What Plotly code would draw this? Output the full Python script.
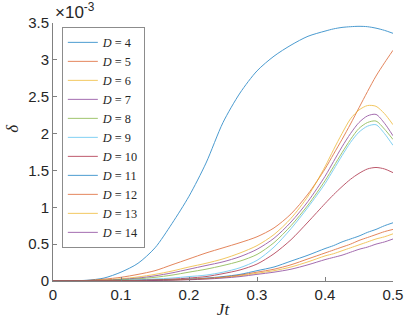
import plotly.graph_objects as go

# Jt grid (finer near the peaks)
jt = [0, 0.025, 0.05, 0.075, 0.1, 0.125, 0.15, 0.175, 0.2, 0.225, 0.25, 0.275,
      0.3, 0.325, 0.35, 0.375, 0.4, 0.4125, 0.425, 0.4375, 0.45, 0.4625, 0.475, 0.4875, 0.5]

# delta values in units of 1e-3
d4 = [0, 0.003, 0.01, 0.04, 0.12, 0.24, 0.45, 0.78, 1.15, 1.6, 2.15, 2.55,
      2.85, 3.05, 3.2, 3.32, 3.39, 3.42, 3.44, 3.45, 3.455, 3.45, 3.43, 3.4, 3.36]
d5 = [0, 0.002, 0.008, 0.025, 0.05, 0.09, 0.14, 0.22, 0.30, 0.38, 0.45, 0.52,
      0.60, 0.72, 0.91, 1.18, 1.52, 1.72, 1.92, 2.13, 2.35, 2.57, 2.78, 2.96, 3.13]
d6 = [0, 0.001, 0.005, 0.015, 0.03, 0.055, 0.09, 0.135, 0.19, 0.24, 0.30, 0.38,
      0.48, 0.63, 0.85, 1.15, 1.55, 1.78, 2.0, 2.2, 2.32, 2.38, 2.37, 2.27, 2.12]
d7 = [0, 0.001, 0.004, 0.01, 0.022, 0.04, 0.07, 0.11, 0.16, 0.21, 0.26, 0.33,
      0.43, 0.58, 0.80, 1.08, 1.42, 1.62, 1.82, 2.0, 2.15, 2.24, 2.26, 2.14, 1.97]
d8 = [0, 0.001, 0.003, 0.008, 0.016, 0.03, 0.05, 0.08, 0.12, 0.16, 0.21, 0.27,
      0.36, 0.52, 0.75, 1.03, 1.36, 1.55, 1.74, 1.92, 2.07, 2.15, 2.17, 2.06, 1.92]
d9 = [0, 0, 0.002, 0.005, 0.01, 0.017, 0.027, 0.04, 0.06, 0.08, 0.12, 0.18,
      0.28, 0.46, 0.71, 1.0, 1.32, 1.51, 1.70, 1.88, 2.02, 2.10, 2.12, 2.0, 1.84]
d10 = [0, 0, 0.001, 0.003, 0.006, 0.01, 0.016, 0.025, 0.04, 0.06, 0.10, 0.15,
       0.23, 0.37, 0.56, 0.80, 1.05, 1.17, 1.28, 1.38, 1.46, 1.52, 1.54, 1.52, 1.47]
d11 = [0, 0, 0.001, 0.002, 0.004, 0.007, 0.011, 0.017, 0.026, 0.04, 0.06, 0.09,
       0.14, 0.19, 0.27, 0.35, 0.44, 0.48, 0.53, 0.57, 0.61, 0.66, 0.70, 0.75, 0.79]
d12 = [0, 0, 0.001, 0.002, 0.004, 0.006, 0.01, 0.015, 0.023, 0.035, 0.053, 0.08,
       0.12, 0.16, 0.22, 0.30, 0.38, 0.42, 0.46, 0.50, 0.55, 0.59, 0.63, 0.67, 0.70]
d13 = [0, 0, 0.001, 0.002, 0.003, 0.005, 0.009, 0.013, 0.02, 0.03, 0.047, 0.07,
       0.105, 0.14, 0.19, 0.26, 0.34, 0.37, 0.41, 0.45, 0.49, 0.53, 0.57, 0.60, 0.64]
d14 = [0, 0, 0, 0.001, 0.002, 0.004, 0.007, 0.011, 0.017, 0.026, 0.04, 0.06,
       0.09, 0.12, 0.16, 0.22, 0.29, 0.32, 0.35, 0.39, 0.43, 0.46, 0.50, 0.53, 0.57]

dims = [4, 5, 6, 7, 8, 9, 10, 11, 12, 13, 14]
series = [d4, d5, d6, d7, d8, d9, d10, d11, d12, d13, d14]

# matlab default line colours, cycling
colors = ['#0072BD', '#D95319', '#EDB120', '#7E2F8E', '#77AC30', '#4DBEEE', '#A2142F']

fig = go.Figure()
for i, (D, y) in enumerate(zip(dims, series)):
    fig.add_trace(go.Scatter(
        x=jt, y=y, mode='lines', name=f'<i>D</i> = {D}',
        line=dict(color=colors[i % 7], width=1, shape='spline', smoothing=0.8),
        opacity=0.7,
    ))

axis_common = dict(
    showgrid=False, zeroline=False, showline=True, linecolor='#808080', linewidth=1,
    ticks='inside', ticklen=4, tickcolor='#808080',
    tickfont=dict(family='Liberation Sans', size=15, color='#262626'),
)

fig.update_layout(
    width=415, height=328,
    margin=dict(l=53, r=12, t=23, b=45),
    plot_bgcolor='white', paper_bgcolor='white',
    xaxis=dict(range=[0, 0.5], tickvals=[0, 0.1, 0.2, 0.3, 0.4, 0.5],
               ticktext=['0', '0.1', '0.2', '0.3', '0.4', '0.5'],
               title=dict(text='<i>Jt</i>', font=dict(family='Liberation Serif', size=17, color='#262626'),
                          standoff=1),
               **axis_common),
    yaxis=dict(range=[0, 3.5], tickvals=[0, 0.5, 1, 1.5, 2, 2.5, 3, 3.5],
               ticktext=['0', '0.5', '1', '1.5', '2', '2.5', '3', '3.5'],
               **axis_common),
    legend=dict(x=0.026, y=0.985, xanchor='left', yanchor='top',
                bordercolor='#8c8c8c', borderwidth=1, bgcolor='white',
                font=dict(family='Liberation Serif', size=12.3, color='#262626'),
                itemwidth=30, tracegroupgap=0),
    showlegend=True,
    annotations=[
        dict(text='×10<sup>-3</sup>', xref='paper', yref='paper', x=0.0, y=1.0,
             xanchor='left', yanchor='bottom', showarrow=False, yshift=-1,
             font=dict(family='Liberation Sans', size=17, color='#262626')),
        dict(text='<i>δ</i>', xref='paper', yref='paper', x=0, y=0.59,
             xanchor='center', yanchor='middle', showarrow=False, xshift=-40,
             textangle=-90, font=dict(family='Liberation Serif', size=17, color='#262626')),
    ],
)

# drop the default page margin so the figure sits at the window origin
fig.write_html('out.html', config={'displayModeBar': False},
               post_script="document.body.style.margin='0';")
